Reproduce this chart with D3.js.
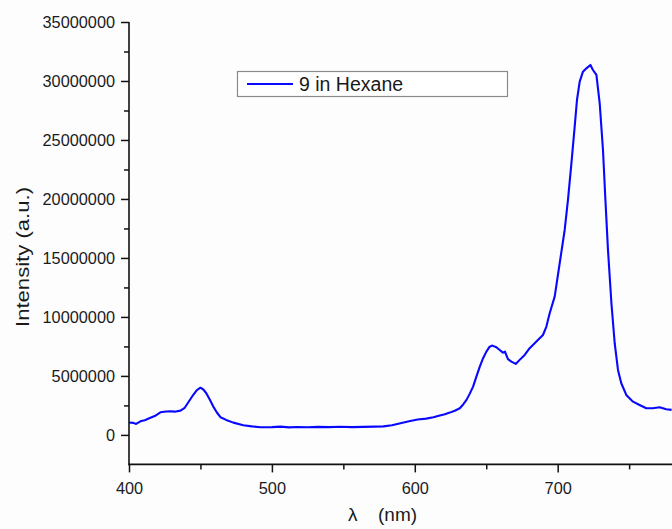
<!DOCTYPE html>
<html>
<head>
<meta charset="utf-8">
<script src="https://cdn.jsdelivr.net/npm/d3@7"></script>
<style>
  html, body { margin: 0; padding: 0; background: #fdfdfd; }
  svg { display: block; font-family: "Liberation Sans", Arial, sans-serif; }
</style>
</head>
<body>
<svg id="chart" width="672" height="529"></svg>
<script>
// ---- data ----
const seriesName = "9 in Hexane";
const wavelength = [400,403,405,408,411,415,418,422,426,429,432,436,439,442,445,447.5,450,452,454,456.5,459,461.5,464,468,473,480,486,492,500,506,512,518,525,532,540,548,556,564,572,578,584,590,596,602,608,613,617.5,621,624.5,628,631.5,634,636.2,638.5,640.8,643.1,645.5,647.8,650.1,652.4,654.3,657.1,659.4,661.7,663.1,665.2,667.6,670.6,673.4,676.9,680.4,685.1,689.7,692.1,694.4,697.9,701.4,704.9,707.2,709.6,711.9,713.5,715.4,717.7,720.1,722.9,724.7,727.1,729.4,731.7,733.4,735.2,737.6,739.9,742.2,744.5,748,752.7,757.3,762,766.6,771.3,776,779.7];
const intensity = [1.05,1.02,0.93,1.15,1.25,1.45,1.6,1.92,1.98,2.0,1.97,2.06,2.3,2.85,3.4,3.8,4.0,3.85,3.55,3.0,2.4,1.9,1.5,1.27,1.04,0.82,0.72,0.65,0.66,0.7,0.64,0.67,0.65,0.68,0.66,0.69,0.66,0.68,0.7,0.72,0.82,0.98,1.15,1.3,1.38,1.5,1.64,1.75,1.89,2.05,2.26,2.6,2.97,3.5,4.09,4.94,5.79,6.5,7.06,7.48,7.57,7.43,7.2,6.97,7.06,6.42,6.21,6.02,6.36,6.78,7.35,7.91,8.47,9.18,10.31,11.72,14.55,17.37,19.92,23.02,26.13,28.39,29.94,30.79,31.07,31.36,30.93,30.51,28.11,24.15,19.92,15.68,11.16,7.77,5.51,4.38,3.39,2.82,2.54,2.26,2.26,2.35,2.18,2.12].map(v => v * 1e6);
const xMajorTicks = [400, 500, 600, 700];
const xMinorTicks = [450, 550, 650, 750];
const yMajorTicks = [0, 5000000, 10000000, 15000000, 20000000, 25000000, 30000000, 35000000];
const yMinorTicks = [2500000, 7500000, 12500000, 17500000, 22500000, 27500000, 32500000];
const xDomain = [400, 780];
const yDomain = [-2500000, 35000000];
const xTitleSymbol = "λ";
const xTitleUnit = "(nm)";
const yTitle = "Intensity (a.u.)";

// ---- layout ----
const svg = d3.select("#chart");
const pLeft = 129, pRight = 672, pTop = 22, pBottom = 464.4;
const x = d3.scaleLinear().domain(xDomain).range([pLeft, pRight]);
const y = d3.scaleLinear().domain(yDomain).range([pBottom, pTop]);
const textColor = "#1a1a1a";
const lineColor = "#0808ff";

// curve
const data = wavelength.map((w, i) => ({ w, v: intensity[i] }));
svg.append("path")
  .datum(data)
  .attr("fill", "none")
  .attr("stroke", lineColor)
  .attr("stroke-width", 2.1)
  .attr("stroke-linejoin", "round")
  .attr("d", d3.line().x(d => x(d.w)).y(d => y(d.v)));

// x axis
const xAxis = svg.append("g").attr("transform", `translate(0,${pBottom})`);
xAxis.append("g").call(d3.axisBottom(x).tickValues(xMinorTicks).tickSize(5).tickFormat(""));
xAxis.append("g").call(d3.axisBottom(x).tickValues(xMajorTicks).tickSize(8).tickPadding(10).tickFormat(d3.format("d")));
xAxis.selectAll(".domain").remove();
svg.append("line").attr("x1", pLeft - 0.5).attr("x2", pRight).attr("y1", pBottom).attr("y2", pBottom)
  .attr("stroke", "#111").attr("stroke-width", 1.6);

// y axis
const yAxis = svg.append("g").attr("transform", `translate(${pLeft},0)`);
yAxis.append("g").call(d3.axisLeft(y).tickValues(yMinorTicks).tickSize(5).tickFormat(""));
yAxis.append("g").call(d3.axisLeft(y).tickValues(yMajorTicks).tickSize(8).tickPadding(6).tickFormat(d3.format("d")));
yAxis.selectAll(".domain").remove();
svg.append("line").attr("x1", pLeft).attr("x2", pLeft).attr("y1", pTop).attr("y2", pBottom + 0.8)
  .attr("stroke", "#111").attr("stroke-width", 1.6);

svg.selectAll(".tick line").attr("stroke", "#111").attr("stroke-width", 1.5);
svg.selectAll(".tick text")
  .attr("fill", textColor)
  .style("font-family", "'Liberation Sans', Arial, sans-serif")
  .style("font-size", "16.3px");

// axis titles
svg.append("text")
  .attr("x", 348).attr("y", 521)
  .attr("fill", textColor).style("font-size", "19px")
  .text(xTitleSymbol);
svg.append("text")
  .attr("x", 378).attr("y", 521)
  .attr("fill", textColor).style("font-size", "19px")
  .text(xTitleUnit);
svg.append("text")
  .attr("transform", "translate(28.5,257) rotate(-90)")
  .attr("text-anchor", "middle")
  .attr("fill", textColor).style("font-size", "19px")
  .attr("textLength", 140).attr("lengthAdjust", "spacingAndGlyphs")
  .text(yTitle);

// legend
const lg = svg.append("g");
lg.append("rect").attr("x", 237.5).attr("y", 71.5).attr("width", 270).attr("height", 25)
  .attr("fill", "#fff").attr("stroke", "#8a8a8a").attr("stroke-width", 1.2);
lg.append("line").attr("x1", 247).attr("x2", 293).attr("y1", 84).attr("y2", 84)
  .attr("stroke", lineColor).attr("stroke-width", 2);
lg.append("text").attr("x", 299).attr("y", 91)
  .attr("fill", textColor).style("font-size", "19.5px")
  .text(seriesName);
</script>
</body>
</html>
